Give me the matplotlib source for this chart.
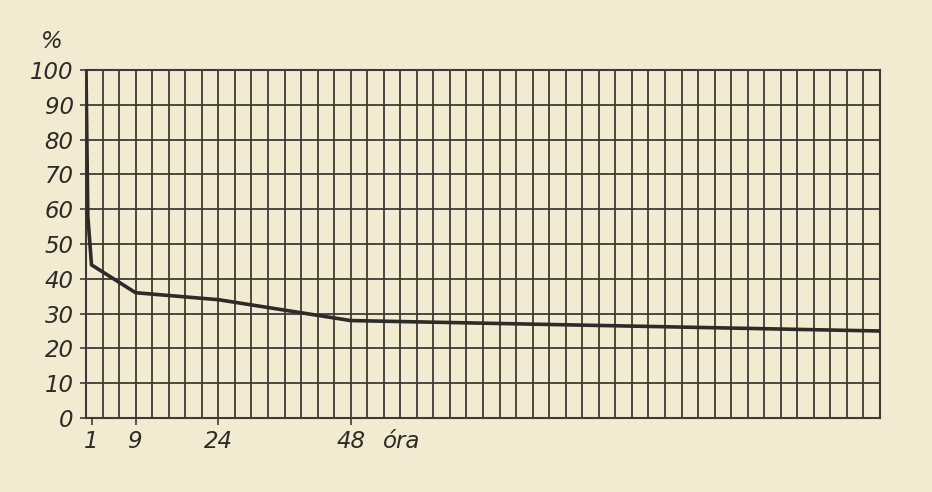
import matplotlib
matplotlib.use("Agg")
import matplotlib.pyplot as plt
import numpy as np

# Data (Ebbinghaus forgetting curve)
hours = [0, 0.33, 1, 9, 24, 48, 144]
retention = [100, 58, 44, 36, 34, 28, 25]

x_ticks = [1, 9, 24, 48]
x_tick_labels = ["1", "9", "24", "48"]
y_ticks = [0, 10, 20, 30, 40, 50, 60, 70, 80, 90, 100]
y_tick_labels = [str(v) for v in y_ticks]

bg = "#F3EAD2"
ink = "#3f3a36"

fig = plt.figure(figsize=(9.32, 4.92), dpi=100, facecolor=bg)
ax = fig.add_axes([86/932, 1-418/492, (880-86)/932, (418-70)/492])
ax.set_facecolor(bg)

ax.set_xlim(0, 144)
ax.set_ylim(0, 100)

# grid
for gx in np.arange(0, 145, 3):
    ax.axvline(gx, color=ink, lw=1.3, zorder=1)
for gy in y_ticks:
    ax.axhline(gy, color=ink, lw=1.3, zorder=1)

ax.plot(hours, retention, color="#2e2a27", lw=2.6, solid_joinstyle="miter", zorder=3)

for s in ax.spines.values():
    s.set_color(ink)
    s.set_linewidth(1.5)

font = dict(family="DejaVu Sans", style="italic", fontsize=16.5, color="#2e2a27")
ax.set_yticks(y_ticks)
ax.set_yticklabels(y_tick_labels, **font)
ax.set_xticks(x_ticks)
ax.set_xticklabels(x_tick_labels, **font)
ax.tick_params(axis="y", length=4, width=1.2, color=ink, pad=5)
ax.tick_params(axis="x", length=5, width=1.2, color=ink, pad=4)

ax.annotate("óra", xy=(48, 0), xycoords="data", xytext=(32, -12),
            textcoords="offset pixels", ha="left", va="top", **font)
fig.text(52/932, 1-42/492, "%", ha="center", va="center", **font)

fig.savefig("out.png", dpi=100, facecolor=bg)
